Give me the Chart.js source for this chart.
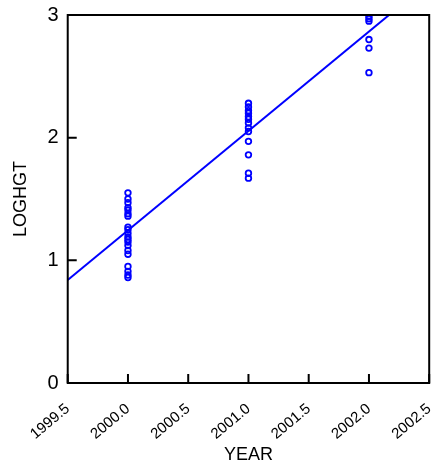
<!DOCTYPE html>
<html>
<head>
<meta charset="utf-8">
<script src="https://cdn.jsdelivr.net/npm/chart.js@4.4.1/dist/chart.umd.min.js"></script>
<style>
  html, body { margin: 0; padding: 0; background: #fff; }
  #wrap { width: 435px; height: 467px; }
</style>
</head>
<body>
<div id="wrap"><canvas id="scatterChart"></canvas></div>
<script>
const year2000 = [1.55, 1.50, 1.47, 1.43, 1.41, 1.38, 1.36, 1.27, 1.25, 1.22, 1.19, 1.17, 1.15, 1.12, 1.08, 1.05, 0.95, 0.91, 0.88, 0.86];
const year2001 = [2.28, 2.25, 2.22, 2.20, 2.17, 2.15, 2.12, 2.08, 2.05, 1.97, 1.86, 1.71, 1.67];
const year2002 = [2.99, 2.97, 2.95, 2.80, 2.73, 2.53];
const years = [2000, 2001, 2002];

// fitted line end points
const fitX = [1999.5, 2002.5];
const fitY = [0.84, 3.27];

const xTicks = [1999.5, 2000.0, 2000.5, 2001.0, 2001.5, 2002.0, 2002.5];
const yTicks = [0, 1, 2, 3];

const groups = [year2000, year2001, year2002];
const points = [];
groups.forEach((vals, i) => {
  vals.forEach(v => points.push({ x: years[i], y: v }));
});
const fitLine = fitX.map((x, i) => ({ x: x, y: fitY[i] }));

const FONT = "'Liberation Sans', Arial, sans-serif";

// box round the plot and inward tick marks
const frame = {
  id: "frame",
  afterDraw(chart) {
    const { ctx, chartArea: a, scales } = chart;
    ctx.save();
    ctx.strokeStyle = "#000";
    ctx.lineWidth = 2;
    ctx.strokeRect(a.left, a.top, a.right - a.left, a.bottom - a.top);
    ctx.beginPath();
    xTicks.forEach(t => {
      const px = scales.x.getPixelForValue(t);
      ctx.moveTo(px, a.bottom);
      ctx.lineTo(px, a.bottom - 9);
    });
    yTicks.forEach(t => {
      const py = scales.y.getPixelForValue(t);
      ctx.moveTo(a.left, py);
      ctx.lineTo(a.left + 9, py);
    });
    ctx.stroke();
    ctx.restore();
  }
};

new Chart(document.getElementById("scatterChart"), {
  type: "scatter",
  data: {
    datasets: [
      {
        label: "LOGHGT",
        data: points,
        pointStyle: "circle",
        pointRadius: 2.8,
        pointBorderWidth: 1.8,
        borderColor: "#0000ff",
        backgroundColor: "rgba(0,0,0,0)",
        showLine: false
      },
      {
        label: "fit",
        data: fitLine,
        showLine: true,
        borderColor: "#0000ff",
        borderWidth: 2,
        pointRadius: 0,
        clip: 0
      }
    ]
  },
  plugins: [frame],
  options: {
    responsive: true,
    maintainAspectRatio: false,
    animation: false,
    layout: { padding: { top: 15, right: 1, left: 10, bottom: 0 } },
    plugins: {
      legend: { display: false },
      tooltip: { enabled: false }
    },
    scales: {
      x: {
        type: "linear",
        min: 1999.5,
        max: 2002.5,
        afterBuildTicks: axis => { axis.ticks = xTicks.map(v => ({ value: v })); },
        afterFit: axis => { axis.paddingRight = 0; axis.paddingLeft = 0; axis.height = 84; },
        grid: { display: false, drawTicks: false },
        border: { display: false },
        ticks: {
          color: "#000",
          font: { family: FONT, size: 15 },
          minRotation: 40,
          maxRotation: 40,
          padding: 17,
          callback: v => v.toFixed(1)
        },
        title: {
          display: true,
          text: "YEAR",
          color: "#000",
          font: { family: FONT, size: 18 },
          padding: { top: 0, bottom: 1 }
        }
      },
      y: {
        min: 0,
        max: 3,
        afterBuildTicks: axis => { axis.ticks = yTicks.map(v => ({ value: v })); },
        afterFit: axis => { axis.paddingTop = 0; axis.paddingBottom = 0; },
        grid: { display: false, drawTicks: false },
        border: { display: false },
        ticks: {
          color: "#000",
          font: { family: FONT, size: 20 },
          padding: 9
        },
        title: {
          display: true,
          text: "LOGHGT",
          color: "#000",
          font: { family: FONT, size: 18 },
          padding: { top: 0, bottom: 7 }
        }
      }
    }
  }
});
</script>
</body>
</html>
